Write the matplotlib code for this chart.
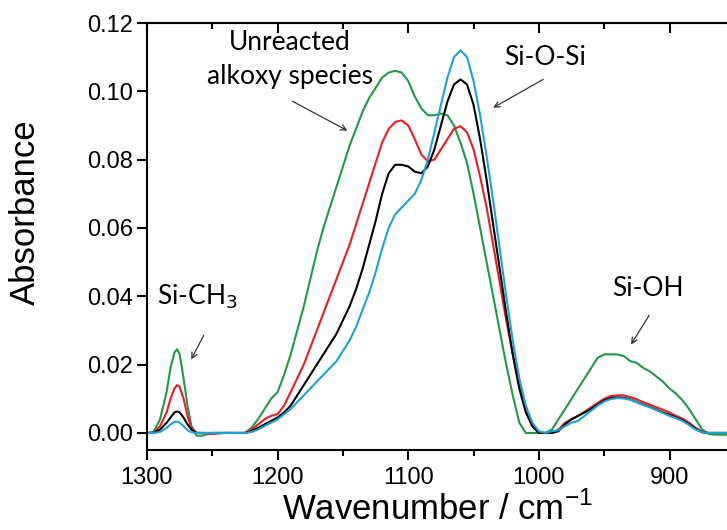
import matplotlib
matplotlib.use("Agg")
import matplotlib.pyplot as plt

# wavenumber grid (cm-1)
wn = [1300, 1295, 1290, 1285, 1282, 1279, 1277, 1275, 1272, 1269, 1266, 1262, 1258, 1250,
      1240, 1230, 1225, 1220, 1215, 1210, 1205, 1200, 1195, 1190, 1185, 1180, 1175, 1170,
      1165, 1160, 1155, 1150, 1145, 1140, 1135, 1130, 1125, 1120, 1115, 1110, 1105, 1100,
      1095, 1090, 1085, 1080, 1075, 1070, 1065, 1060, 1055, 1050, 1045, 1040, 1035, 1030,
      1025, 1020, 1015, 1010, 1005, 1000, 995, 990, 985, 980, 975, 970, 965, 960, 955, 950,
      945, 940, 935, 930, 925, 920, 915, 910, 905, 900, 895, 890, 885, 880, 875, 870, 865,
      860, 856]

green = [0, 0.0003, 0.004, 0.012, 0.019, 0.0235, 0.0245, 0.023, 0.016, 0.008, 0.002, -0.0008,
         -0.0008, 0, 0, 0, 0, 0.0015, 0.004, 0.007, 0.010, 0.012, 0.017, 0.023, 0.030, 0.037,
         0.045, 0.053, 0.060, 0.066, 0.072, 0.078, 0.084, 0.089, 0.094, 0.098, 0.101, 0.104,
         0.1055, 0.106, 0.1055, 0.103, 0.0985, 0.095, 0.093, 0.093, 0.0935, 0.093, 0.090,
         0.085, 0.079, 0.070, 0.060, 0.050, 0.040, 0.030, 0.020, 0.011, 0.003, 0, 0, 0, 0,
         0.001, 0.004, 0.007, 0.010, 0.013, 0.016, 0.019, 0.022, 0.023, 0.023, 0.023, 0.0225,
         0.021, 0.0205, 0.019, 0.018, 0.0165, 0.015, 0.013, 0.0115, 0.0095, 0.007, 0.004,
         0.001, -0.0003, -0.0005, -0.0005, -0.0005]

red = [0, 0, 0.002, 0.006, 0.010, 0.013, 0.014, 0.0135, 0.010, 0.005, 0.0015, 0, 0, -0.0003,
       0, 0, 0, 0.001, 0.0025, 0.004, 0.005, 0.0055, 0.008, 0.012, 0.016, 0.020, 0.025, 0.030,
       0.035, 0.040, 0.045, 0.050, 0.055, 0.061, 0.067, 0.073, 0.079, 0.085, 0.089, 0.091,
       0.0915, 0.090, 0.086, 0.0815, 0.0795, 0.080, 0.083, 0.086, 0.089, 0.0898, 0.088, 0.083,
       0.075, 0.066, 0.055, 0.044, 0.033, 0.023, 0.014, 0.007, 0.002, 0, 0, 0, 0.001, 0.003,
       0.004, 0.005, 0.0062, 0.0075, 0.0088, 0.010, 0.0108, 0.011, 0.011, 0.0105, 0.0098,
       0.009, 0.0083, 0.0075, 0.0068, 0.006, 0.005, 0.0042, 0.003, 0.0015, 0.0003, 0, 0, 0, 0]

black = [0, 0, 0.001, 0.003, 0.0045, 0.006, 0.0063, 0.006, 0.0045, 0.0025, 0.001, 0, 0, 0,
         0, 0, 0, 0.0005, 0.0015, 0.0025, 0.0035, 0.0045, 0.006, 0.008, 0.011, 0.014, 0.017,
         0.020, 0.023, 0.026, 0.029, 0.033, 0.037, 0.042, 0.048, 0.055, 0.062, 0.070, 0.076,
         0.0785, 0.0785, 0.078, 0.0765, 0.076, 0.078, 0.083, 0.090, 0.097, 0.102, 0.1035,
         0.102, 0.096, 0.086, 0.074, 0.061, 0.048, 0.035, 0.023, 0.013, 0.006, 0.002, 0, 0, 0,
         0.0005, 0.0025, 0.004, 0.005, 0.006, 0.007, 0.0083, 0.0095, 0.0102, 0.0104, 0.0103,
         0.0098, 0.009, 0.0083, 0.0076, 0.0068, 0.006, 0.0053, 0.0045, 0.0037, 0.0025, 0.0012,
         0.0002, 0, 0, 0, 0]

cyan = [0, 0, 0.0003, 0.0015, 0.0025, 0.0032, 0.0033, 0.003, 0.002, 0.0008, 0.0002, 0, 0, 0,
        0, 0, 0, 0.0003, 0.001, 0.002, 0.003, 0.004, 0.0055, 0.007, 0.009, 0.011, 0.013,
        0.015, 0.017, 0.019, 0.021, 0.024, 0.027, 0.031, 0.036, 0.041, 0.047, 0.054, 0.060,
        0.064, 0.066, 0.068, 0.070, 0.074, 0.080, 0.088, 0.096, 0.104, 0.110, 0.112, 0.110,
        0.103, 0.093, 0.081, 0.068, 0.054, 0.040, 0.027, 0.016, 0.008, 0.003, 0.0005, 0,
        0.0005, 0.0008, 0.002, 0.003, 0.0035, 0.005, 0.0065, 0.008, 0.0092, 0.0099, 0.0102,
        0.0101, 0.0097, 0.009, 0.0082, 0.0075, 0.0067, 0.0058, 0.005, 0.0043, 0.0035, 0.0023,
        0.001, 0.0002, 0, 0, 0, 0]

xticks = [1300, 1200, 1100, 1000, 900]
xminor = [1250, 1150, 1050, 950]
yticks = [0.00, 0.02, 0.04, 0.06, 0.08, 0.10, 0.12]

plt.rcParams['font.family'] = ['Liberation Sans', 'DejaVu Sans']

fig = plt.figure(figsize=(7.27, 5.30), dpi=100)
ax = fig.add_axes([0.2022, 0.1509, 0.7978, 0.8057])

ax.plot(wn, green, color='#1f9a48', lw=1.5)
ax.plot(wn, red, color='#ee1c24', lw=1.5)
ax.plot(wn, black, color='black', lw=1.5)
ax.plot(wn, cyan, color='#1ba3d8', lw=1.5)

ax.set_xlim(1300, 856)
ax.set_ylim(-0.005, 0.12)
ax.set_xticks(xticks)
ax.set_xticks(xminor, minor=True)
ax.set_yticks(yticks)
ax.set_yticklabels([f"{v:.2f}" for v in yticks])
ax.tick_params(axis='both', labelsize=17, width=1.5, length=7, direction='out')
ax.tick_params(axis='x', which='minor', length=4, width=1.5)
ax.tick_params(axis='y', pad=3)
ax.tick_params(axis='x', pad=5)

for s in ['left', 'bottom', 'top']:
    ax.spines[s].set_linewidth(1.5)
ax.spines['right'].set_visible(False)

# inward ticks on the top spine
top = ax.secondary_xaxis('top')
top.set_xticks(xticks)
top.set_xticks(xminor, minor=True)
top.tick_params(direction='in', length=7, width=1.5, labeltop=False)
top.tick_params(which='minor', direction='in', length=4, width=1.5)
top.set_xticklabels([])
top.spines['top'].set_linewidth(1.5)

ax.set_ylabel('Absorbance', fontsize=25)
ax.yaxis.set_label_coords(-0.182, 0.557)
ax.set_xlabel('Wavenumber / cm$^{\\mathregular{-1}}$', fontsize=25, labelpad=2)

afont = dict(family=['Lato', 'DejaVu Sans'], fontsize=19, ha='center', va='center')
arrow = dict(arrowstyle='->', color='#333333', lw=0.9)

ax.text(1190.6, 0.1092, 'Unreacted\nalkoxy species', linespacing=1.45, **afont)
ax.annotate('', xy=(1144.7, 0.0881), xytext=(1190.6, 0.0975), arrowprops=arrow)

ax.text(995.6, 0.110, 'Si-O-Si', **afont)
ax.annotate('', xy=(1036.9, 0.0948), xytext=(994.8, 0.1039), arrowprops=arrow)

ax.text(916.8, 0.0424, 'Si-OH', **afont)
ax.annotate('', xy=(930.6, 0.0252), xytext=(914.5, 0.0351), arrowprops=arrow)

ax.text(1261.8, 0.0400, 'Si-CH$_3$', **afont)
ax.annotate('', xy=(1267.1, 0.0208), xytext=(1255.6, 0.0293), arrowprops=arrow)

fig.savefig('out.png', dpi=100)
